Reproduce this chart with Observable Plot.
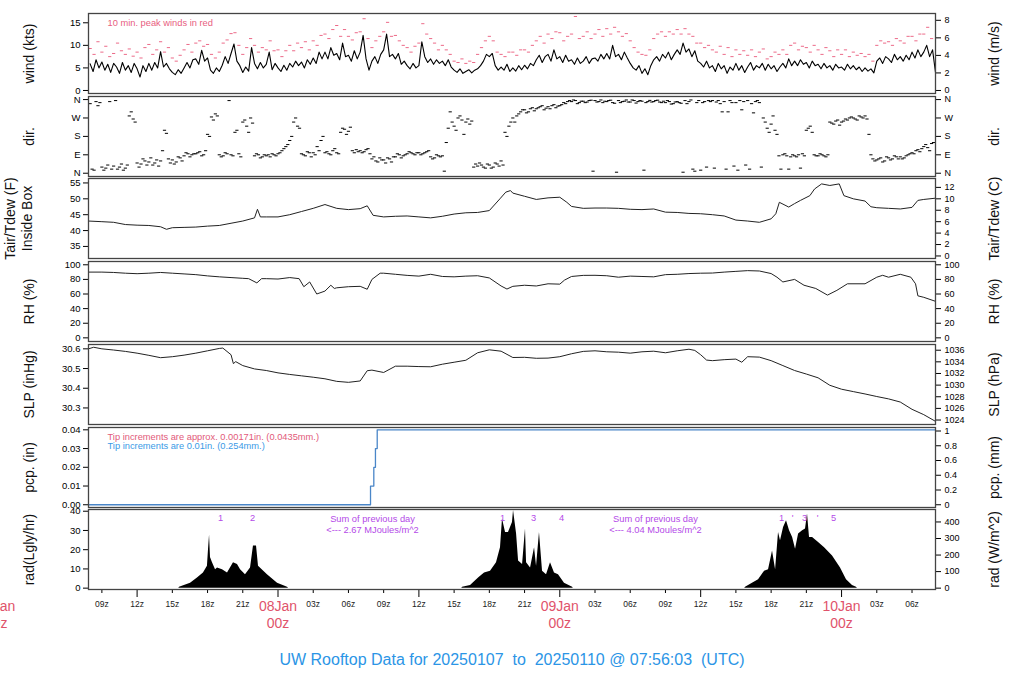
<!DOCTYPE html>
<html><head><meta charset="utf-8">
<script src="https://cdn.jsdelivr.net/npm/d3@7"></script>
<script src="https://cdn.jsdelivr.net/npm/@observablehq/plot@0.6"></script>
<style>
html,body{margin:0;padding:0;background:#fff;overflow:hidden;}
#wrap{position:relative;width:1024px;height:700px;overflow:hidden;font-family:"Liberation Sans",Arial,Helvetica,sans-serif;}
#wrap svg{position:absolute;left:0;}
#title{position:absolute;left:0;width:1024px;top:651px;text-align:center;font-size:16px;color:#2b95e6;white-space:pre;}
</style></head><body><div id="wrap"><div id="title"></div></div>
<script>
// ---------------- data (hours since 07Jan 00z UTC) ----------------
const xDomain = [7.86, 80.0];
const titleText = "UW Rooftop Data for 20250107  to  20250110 @ 07:56:03  (UTC)";

const windStart = 8, windStep = 0.25;
const windKts = [5.9,4.2,6.8,5.0, 6.3,4.5,5.8,4.0, 6.0,5.2,3.8,6.2, 4.5,5.5,4.0,6.0, 4.8,3.0,5.5,4.2, 6.0,4.5,6.2,5.0, 8.6,5.2,6.0,4.8, 4.0,3.5,4.6,3.8, 5.0,6.2,5.0,6.8, 7.0,5.8,8.9,6.5, 7.2,4.5,3.8,5.0, 4.2,5.6,7.5,6.0, 8.2,10.3,6.5,5.5, 4.0,5.2,4.3,9.5, 6.0,4.8,6.2,5.0, 5.8,8.5,4.6,6.0, 5.0,4.2,5.6,4.5, 6.0,5.2,6.5,5.5, 6.3,5.0,6.8,5.8, 7.2,6.0,8.5,7.0, 8.5,7.0,9.5,7.8, 8.2,6.8,10.5,7.5, 7.8,6.5,8.8,7.0, 8.5,12.2,7.0,4.5, 6.5,7.5,6.0,8.0, 9.0,12.5,7.5,8.0, 7.0,8.2,5.8,6.5, 5.5,4.8,6.0,5.0, 5.5,10.8,7.5,6.2, 7.0,5.8,6.8,6.0, 6.5,5.5,6.8,5.2, 4.5,4.0,4.8,3.8, 4.2,4.6,3.9,4.5, 4.8,5.5,6.5,8.0, 7.5,8.2,5.5,4.5, 5.2,4.5,5.8,4.2, 5.0,4.3,5.5,4.6, 5.6,4.8,6.0,5.5, 6.8,7.8,6.2,7.5, 8.0,6.5,9.0,7.0, 7.5,6.2,7.8,6.5, 6.8,5.8,7.2,6.0, 6.5,7.5,6.0,7.0, 7.2,6.5,8.0,7.0, 8.2,7.0,10.0,7.5, 8.0,6.8,8.5,7.2, 6.0,5.0,4.5,5.5, 3.8,4.8,3.5,5.5, 6.8,7.5,6.5,8.0, 7.2,8.5,6.8,8.0, 9.0,8.0,10.5,8.5, 9.2,7.5,8.8,6.5, 6.0,5.2,6.5,5.0, 5.5,4.2,6.0,4.8, 5.5,3.8,5.2,4.5, 6.0,4.5,5.5,4.0, 5.2,6.2,4.5,5.5, 5.0,6.0,4.5,5.8, 4.8,5.5,4.2,5.2, 6.0,5.0,7.0,5.5, 6.5,5.5,6.8,5.8, 6.2,5.0,6.5,5.5, 5.8,4.8,6.0,5.0, 5.5,4.5,5.8,5.0, 5.2,4.5,5.8,4.8, 5.5,4.6,5.2,4.2, 5.0,4.3,4.8,3.9, 6.5,7.2,6.0,7.5, 7.0,6.2,8.0,6.8, 7.5,6.5,7.8,6.8, 8.5,7.2,9.0,7.5, 8.5,10.0,7.5,9.0, 4.0];

const peakStart = 8, peakStep = 1/3;
const peakKts = [9.3,8.0,10.8, 8.5,9.8,7.5, 8.2,10.5,8.8, 8.0,9.2,7.6, 8.5,7.2,9.5, 10.2,8.0,9.0, 10.8,8.5,9.5, 7.2,6.5,7.8, 9.0,10.2,8.5, 10.5,11.0,9.8, 10.2,8.0,7.2, 8.5,10.5,11.2, 12.6,12.8,10.0, 8.0,9.5,11.5, 10.0,8.5,9.5, 9.0,11.0,8.8, 9.0,7.5,8.8, 10.0,8.8,10.5, 9.5,10.8,9.0, 11.0,10.0,12.2, 12.5,11.5,13.5, 14.4,12.0,13.5, 12.0,11.2,12.8, 13.0,15.9,11.5, 9.5,11.0,12.0, 13.0,15.1,12.0, 12.2,11.0,10.0, 9.5,8.5,9.8, 10.5,14.8,12.5, 11.5,10.5,9.0, 10.0,9.0,8.0, 6.5,6.2,7.0, 6.0,6.5,6.2, 8.0,9.5,11.0, 12.0,11.0,8.5, 8.0,7.5,8.5, 8.5,7.8,9.0, 9.0,8.5,10.0, 11.0,12.0,10.5, 12.5,11.5,13.0, 12.8,11.0,12.0, 12.5,16.4,11.5, 12.0,13.0,11.5, 12.5,13.5,12.0, 13.7,12.5,14.0, 13.0,12.0,12.6, 11.0,9.5,8.5, 8.0,7.8,9.0, 11.5,12.5,13.0, 12.0,13.0,12.5, 13.5,12.5,13.7, 12.5,12.0,10.5, 10.5,9.5,10.0, 9.0,8.5,9.8, 8.0,9.5,7.5, 9.0,8.0,8.8, 7.8,9.0,7.5, 8.5,9.2,7.0, 7.5,8.5,8.0, 9.0,8.0,10.0, 10.5,9.0,9.8, 9.5,8.5,10.0, 9.0,8.0,9.5, 8.8,7.5,9.0, 8.0,9.0,7.5, 8.5,7.8,8.2, 7.5,8.0,6.5, 10.0,11.0,10.5, 10.8,10.0,11.5, 11.0,10.5,12.0, 12.0,11.0,12.5, 12.5,14.0,11.5];

const dirStart = 8, dirStep = 1/3;
const dirA = [340,15,330, 30,25,350, 35,20,45, 25,280,265, 50,45,60, 55,40,65, 60,210,70, 65,55,75, 85,95,90, 95,105,90, 190,275,290, 90,85,95, 90,200,95, 250,230,270, 85,90,80, 85,80,90, 95,110,130, 160,250,230, 95,85,100, 100,130,160, 100,95,110, 100,200,215, 205,110,115, 110,105,120, 70,60,75, 65,75,55, 80,90,85, 95,100,90, 100,95,105, 80,75,85, 85,150,300, 230,270,260, 250,240,30, 35,40,25, 40,30,45, 60,200,230, 270,280,300, 310,300,320, 315,325,310, 325,330,320, 330,345,350, 350,355,345, 352,348,357, 355,350,345, 350,357,342, 355,350,358, 348,355,350, 352,345,356, 350,357,345, 345,350,340, 350,342,355, 350,20,345, 15,350,355, 355,348,340, 350,300,345, 345,355,350, 355,340,350, 345,270,220, 240,210,85, 90,85,80, 85,90,95, 210,230,90, 85,90,80, 250,240,260, 250,265,270, 270,260,275, 280,190,70, 65,75,60, 75,70,80, 80,75,90, 100,110,105, 130,125,145];
const dirB = [20,350,345, 15,40,20, 355,30,15, 40,300,250, 30,70,40, 75,50,35, 110,195,50, 45,80,60, 100,80,95, 100,85,110, 180,260,280, 80,100,355, 85,210,80, 260,200,245, 95,75,90, 90,95,85, 100,120,140, 180,270,220, 90,105,80, 90,110,180, 105,90,120, 95,220,190, 225,100,105, 100,115,95, 80,55,65, 50,70,80, 95,75,90, 105,95,100, 90,100,110, 70,90,80, 10,220,250, 210,280,190, 265,255,45, 50,30,45, 25,50,35, 40,180,250, 250,290,310, 295,315,305, 320,330,318, 315,335,328, 335,340,355, 358,340,352, 345,355,10, 348,358,352, 355,345,5, 345,352,348, 358,343,355, 15,350,348, 355,348,352, 355,338,348, 345,5,340, 358,10,355, 345,30,350, 25,355,300, 20,355,35, 15,310,40, 20,295,355, 30,250,200, 280,190,20, 95,20,90, 80,25,85, 220,200,85, 95,85,90, 245,255,235, 255,260,275, 265,280,270, 265,90,60, 70,55,80, 65,85,70, 70,85,95, 95,115,120, 140,110,150];

const tempHours = [7.86,9,10,11,12,13,14,14.5,15,16,17,18,19,20,21,22,22.25,22.5,23,24,25,26,27,28,29,30,31,31.6,32.1,33,34,35,36,37,38,39,40,41,42,42.9,43.4,43.8,44,45,46,47,48,48.6,49,50,51,52,53,54,55,56,57,58,59,60,61,62,63,64,65,66,66.4,66.7,67.5,68,68.5,69.3,69.7,70.3,71,71.8,72.2,73,74,74.5,75,76,77,78,78.5,79,80];
const tempF = [43.0,42.8,42.6,41.9,41.7,41.6,41.2,40.4,40.9,41.0,41.1,41.4,41.6,42.3,43.0,44.0,46.7,44.3,44.3,44.3,45.0,46.0,47.0,48.2,47.0,46.6,46.9,47.8,44.8,44.3,44.5,44.6,44.3,44.0,44.5,45.2,45.6,45.7,46.3,50.0,52.1,52.6,51.8,50.8,49.8,50.3,50.5,48.9,47.6,47.0,47.1,47.1,47.0,46.7,46.6,46.8,45.8,45.7,45.4,45.3,45.0,44.6,43.3,43.0,42.6,43.7,45.3,48.9,47.4,48.5,49.5,51.0,53.1,54.7,54.2,54.7,51.0,50.0,49.3,47.5,47.2,47.0,46.8,47.3,49.5,49.8,50.2];

const rhHours = [7.86,9,10,11,12,13,14,15,16,17,18,19,20,21,21.5,22.2,22.6,23,24,25,25.8,26.2,26.7,27.3,28,28.5,28.8,29,30,31,31.6,32,32.7,33,34,35,36,37,38,39,40,41,42,43,43.5,44,45,46,47,48,48.4,49,50,51,52,53,54,55,56,57,58,59,60,61,62,63,64,65,66,66.5,67,68,68.8,69.8,70.8,71.6,72.5,74,75,75.5,76,77,77.9,78.3,78.5,79,80];
const rhPct = [90,90,89.5,88.5,87.8,88.5,89.5,88.5,87.5,86.5,84.8,83.5,82.5,81.5,81,75.2,81,81,80.5,82.5,81,70,76.5,60,64,72,67.6,68.5,70,70.5,66.5,80,88.5,88.5,87,85.5,84.5,87,84,83.5,84.5,85,82,71,66.8,70.5,72,71,74,73.5,79,84,85.5,85.6,85,83,84.5,84,83.5,86.5,87,88,88.5,88.7,90,91,92,91.5,88,83,76.5,80,72,67.6,58.5,65,74,74,83,85.6,83,87,83,74,57.5,55.5,50];

const slpHours = [7.86,8.3,9,10,11,12,13,14,15,16,17,18,19,19.3,20,20.2,20.4,21,22,23,24,25,26,27,28,29,30,31,31.6,32,33,34,35,36,37,38,39,40,41,42,43,44,45,46,47,48,49,50,51,52,53,54,55,56,57,58,59,59.5,60,60.5,61,62,63,63.5,64,65,66,67,68,69,70,71,72,73,74,75,76,77,78,79,80];
const slpInHg = [30.600,30.608,30.600,30.594,30.587,30.578,30.567,30.555,30.560,30.568,30.578,30.590,30.602,30.604,30.570,30.525,30.535,30.515,30.498,30.490,30.478,30.470,30.463,30.456,30.448,30.435,30.430,30.437,30.489,30.492,30.480,30.512,30.512,30.510,30.509,30.522,30.532,30.542,30.580,30.595,30.588,30.556,30.557,30.552,30.553,30.560,30.575,30.587,30.590,30.585,30.583,30.578,30.585,30.588,30.580,30.590,30.598,30.592,30.570,30.543,30.540,30.545,30.548,30.532,30.560,30.558,30.540,30.515,30.490,30.472,30.453,30.415,30.395,30.383,30.371,30.358,30.346,30.330,30.293,30.266,30.232];

const pcpHours = [7.86, 31.88, 32.16, 32.30, 32.45, 80.0];
const pcpIn = [0, 0.01, 0.02, 0.03, 0.04, 0.04];

const radHours = [7.86,15.55,15.61,16.55,17.14,17.65,17.99,18.08,18.17,18.25,18.42,18.68,18.85,19.27,19.70,20.21,20.55,20.81,21.23,21.66,21.91,22.17,22.34,23.10,23.96,24.81,24.9,
  39.65,39.72,40.40,41.08,41.59,42.10,42.61,42.95,43.12,43.38,43.63,43.97,44.06,44.32,44.49,44.83,45.08,45.17,45.51,45.85,46.02,46.27,46.53,46.87,47.21,47.55,47.89,48.40,49.09,49.15,
  63.75,63.82,64.41,64.93,65.44,65.78,66.12,66.38,66.63,66.80,67.06,67.31,67.57,67.83,68.08,68.34,68.68,68.93,69.10,69.27,69.53,70.04,70.55,71.23,71.91,72.42,72.93,73.27,73.35,80.0];
const radLy = [0,0,0.5,2.6,5.3,7.9,11.4,20,27.7,16,13.2,9.6,10.5,9.6,7.9,13.2,12.3,9.6,7.0,10.5,21.9,21.9,11.4,7.0,2.6,0.5,0,
  0,0.5,1.4,5.3,7.9,8.8,13.2,21,36,28.9,28.9,34.2,40.4,28.1,14.1,12.3,30.7,13.2,10.5,21,11.4,28.9,8.8,7,13.2,7.9,7,2.6,0.5,0,
  0,0.5,2.6,4.4,8.8,9.6,19.3,9.6,28.9,24.6,31.6,35.1,29.8,26.3,20.2,28.1,29.8,30.7,38.6,26.3,26.3,23.7,21,16.7,10.5,4.4,1.4,0.5,0,0];

const radMarkHours = [19.10, 21.83, 43.12, 45.76, 48.15, 66.89, 67.83, 68.85, 69.96, 71.32];
const radMarkTexts = ["1", "2", "1", "3", "4", "1", "'", "3", "'", "5"];
const radSumHours = [32.05, 56.15];
const radSumTexts = ["<--- 2.67 MJoules/m^2", "<--- 4.04 MJoules/m^2"];

const xTickHours = [9,12,15,18,21,24,27,30,33,36,39,42,45,48,51,54,57,60,63,66,69,72,75,78];
const dayHours = [0, 24, 48, 72];
const dayLabels = ["07Jan", "08Jan", "09Jan", "10Jan"];

const windTicksKts = [0, 5, 10, 15];
const windTicksMs = [0, 2, 4, 6, 8];
const dirTicks = [0, 90, 180, 270, 360];
const dirNames = ["N", "E", "S", "W", "N"];
const tempTicksF = [35, 40, 45, 50, 55];
const tempTicksC = [0, 2, 4, 6, 8, 10, 12];
const rhTicks = [0, 20, 40, 60, 80, 100];
const slpTicksIn = [30.3, 30.4, 30.5, 30.6];
const slpTicksHpa = [1024, 1026, 1028, 1030, 1032, 1034, 1036];
const pcpTicksIn = [0, 0.01, 0.02, 0.03, 0.04];
const pcpTicksMm = [0, 0.2, 0.4, 0.6, 0.8, 1];
const radTicksLy = [0, 10, 20, 30, 40];
const radTicksW = [0, 100, 200, 300, 400];

// ---------------- tables ----------------
const wind = windKts.map((v, i) => ({h: windStart + i * windStep, v}));
const peaks = peakKts.map((v, i) => ({h: peakStart + i * peakStep, v}));
const dirs = dirA.map((v, i) => ({h: dirStart + i * dirStep, v}))
  .concat(dirB.map((v, i) => ({h: dirStart + i * dirStep + dirStep / 2, v})));
const zipHV = (hs, vs) => hs.map((h, i) => ({h, v: vs[i]}));
const temp = zipHV(tempHours, tempF);
const rh = zipHV(rhHours, rhPct);
const slp = zipHV(slpHours, slpInHg);
const pcp = zipHV(pcpHours, pcpIn);
const rad = zipHV(radHours, radLy);

// ---------------- helpers ----------------
const FONT = '"Liberation Sans", Arial, Helvetica, sans-serif';
const KT_PER_MS = 1.943844, HPA_PER_INHG = 33.8639, MM_PER_IN = 25.4, WM2_PER_LY = 11.622;
const dash = {draw(ctx) { ctx.moveTo(-1.6, 0); ctx.lineTo(1.6, 0); }};
const PURPLE = "#b44ae8";
const wrap = document.getElementById("wrap");
document.getElementById("title").textContent = titleText;

const frame = () => Plot.frame({stroke: "#444", strokeWidth: 1.3});
const leftAxis = (ticks, fmt) => Plot.axisY({anchor: "left", ticks, tickFormat: fmt, tickSize: 5, tickPadding: 3, fontSize: 9.5, label: null});
const rightAxis = (ticks, fmt) => Plot.axisY({anchor: "right", ticks, tickFormat: fmt, tickSize: 5, tickPadding: 4, fontSize: 9, label: null});
const leftLabel = (t, dx = -60) => Plot.text([t], {text: d => d, frameAnchor: "left", textAnchor: "middle", dx, rotate: -90, fontSize: 14, lineHeight: 1.2, fill: "#111"});
const rightLabel = (t) => Plot.text([t], {text: d => d, frameAnchor: "right", textAnchor: "middle", dx: 59, rotate: -90, fontSize: 14, fill: "#111"});
const PAD = 8;

function addPanel(top, yDomain, marks, extraBottom = 0, xAxis = false) {
  const svg = Plot.plot({
    width: 1024, height: 80 + 2 * PAD + extraBottom,
    marginLeft: 88, marginRight: 89, marginTop: PAD, marginBottom: PAD + extraBottom,
    x: xAxis ? {domain: xDomain} : {domain: xDomain, axis: null},
    y: {domain: yDomain, axis: null},
    style: {fontFamily: FONT, background: "transparent", overflow: "visible"},
    marks
  });
  svg.style.top = (top - PAD) + "px";
  wrap.appendChild(svg);
}

// wind
addPanel(13, [-0.67, 17.06], [
  Plot.dot(peaks, {x: "h", y: "v", symbol: dash, stroke: "#ec6a88", fill: "none", strokeWidth: 1}),
  Plot.line(wind, {x: "h", y: "v", stroke: "#000", strokeWidth: 1.1}),
  Plot.text(["10 min. peak winds in red"], {text: d => d, frameAnchor: "top-left", dx: 19, dy: 6, textAnchor: "start", fontSize: 9.3, fill: "#e8607f"}),
  leftAxis(windTicksKts, d => String(d)),
  rightAxis(windTicksMs.map(v => v * KT_PER_MS), d => String(Math.round(d / KT_PER_MS))),
  leftLabel("wind (kts)"), rightLabel("wind (m/s)"),
  frame()
]);

// direction
addPanel(96, [-16, 375], [
  Plot.dot(dirs, {x: "h", y: "v", symbol: dash, stroke: "#000", fill: "none", strokeWidth: 1}),
  leftAxis(dirTicks, d => dirNames[dirTicks.indexOf(d)]),
  rightAxis(dirTicks, d => dirNames[dirTicks.indexOf(d)]),
  leftLabel("dir."), rightLabel("dir."),
  frame()
]);

// temperature
addPanel(178, [31.2, 56.4], [
  Plot.line(temp, {x: "h", y: "v", stroke: "#222", strokeWidth: 1}),
  leftAxis(tempTicksF, d => String(d)),
  rightAxis(tempTicksC.map(c => c * 9 / 5 + 32), d => String(Math.round((d - 32) * 5 / 9))),
  leftLabel("Tair/Tdew (F)\nInside Box", -70.5), rightLabel("Tair/Tdew (C)"),
  frame()
]);

// RH
addPanel(261, [-5, 104.5], [
  Plot.line(rh, {x: "h", y: "v", stroke: "#222", strokeWidth: 1}),
  leftAxis(rhTicks, d => String(d)),
  rightAxis(rhTicks, d => String(d)),
  leftLabel("RH (%)"), rightLabel("RH (%)"),
  frame()
]);

// SLP
addPanel(344, [30.216, 30.622], [
  Plot.line(slp, {x: "h", y: "v", stroke: "#222", strokeWidth: 1}),
  leftAxis(slpTicksIn, d => d.toFixed(1)),
  rightAxis(slpTicksHpa.map(p => p / HPA_PER_INHG), d => String(Math.round(d * HPA_PER_INHG))),
  leftLabel("SLP (inHg)"), rightLabel("SLP (hPa)"),
  frame()
]);

// precipitation
addPanel(427, [-0.00146, 0.04124], [
  Plot.line(pcp, {x: "h", y: "v", curve: "step-after", stroke: "#4a86c8", strokeWidth: 1.3}),
  Plot.text(["Tip increments are approx. 0.00171in. (0.0435mm.)"], {text: d => d, frameAnchor: "top-left", dx: 19, dy: 6, textAnchor: "start", fontSize: 9.3, fill: "#e25a7a"}),
  Plot.text(["Tip increments are 0.01in. (0.254mm.)"], {text: d => d, frameAnchor: "top-left", dx: 19, dy: 15, textAnchor: "start", fontSize: 9.3, fill: "#3a9ae6"}),
  leftAxis(pcpTicksIn, d => d.toFixed(2)),
  rightAxis(pcpTicksMm.map(m => m / MM_PER_IN), d => String(Math.round(d * MM_PER_IN * 10) / 10)),
  leftLabel("pcp. (in)"), rightLabel("pcp. (mm)"),
  frame()
]);

// radiation + time axis
const minorTicks = xTickHours.filter(h => h % 12 !== 0);
const majorTicks = xTickHours.filter(h => h % 12 === 0);
const xLabels = xTickHours.filter(h => h % 24 !== 0).map(h => ({h, t: String(h % 24).padStart(2, "0") + "z"}));
const dayData = dayHours.map((h, i) => ({h, t: dayLabels[i]}));
addPanel(509, [-0.7, 40.9], [
  Plot.areaY(rad, {x: "h", y: "v", fill: "#000"}),
  Plot.text(radMarkHours.map((h, i) => ({h, t: radMarkTexts[i]})), {x: "h", text: "t", frameAnchor: "top", dy: 5, fontSize: 9.3, fill: PURPLE}),
  Plot.text(radSumHours, {x: d => d, text: () => "Sum of previous day", frameAnchor: "top", dy: 6, fontSize: 9.3, fill: PURPLE}),
  Plot.text(radSumHours.map((h, i) => ({h, t: radSumTexts[i]})), {x: "h", text: "t", frameAnchor: "top", dy: 16.5, fontSize: 9.3, fill: PURPLE}),
  leftAxis(radTicksLy, d => String(d)),
  rightAxis(radTicksW.map(w => w / WM2_PER_LY), d => String(Math.round(d * WM2_PER_LY / 100) * 100)),
  Plot.axisX({ticks: minorTicks, tickSize: 4, tickFormat: () => "", label: null, anchor: "bottom"}),
  Plot.axisX({ticks: majorTicks, tickSize: 8, tickFormat: () => "", label: null, anchor: "bottom"}),
  Plot.text(xLabels, {x: "h", text: "t", frameAnchor: "bottom", dy: 17, fontSize: 8.5, fill: "#222"}),
  Plot.text(dayData, {x: "h", text: "t", frameAnchor: "bottom", dy: 21, fontSize: 14, fill: "#df536b"}),
  Plot.text(dayHours, {x: d => d, text: () => "00z", frameAnchor: "bottom", dy: 38, fontSize: 14, fill: "#df536b"}),
  leftLabel("rad(Lgly/hr)"), rightLabel("rad (W/m^2)"),
  frame()
], 60, true);
</script></body></html>
